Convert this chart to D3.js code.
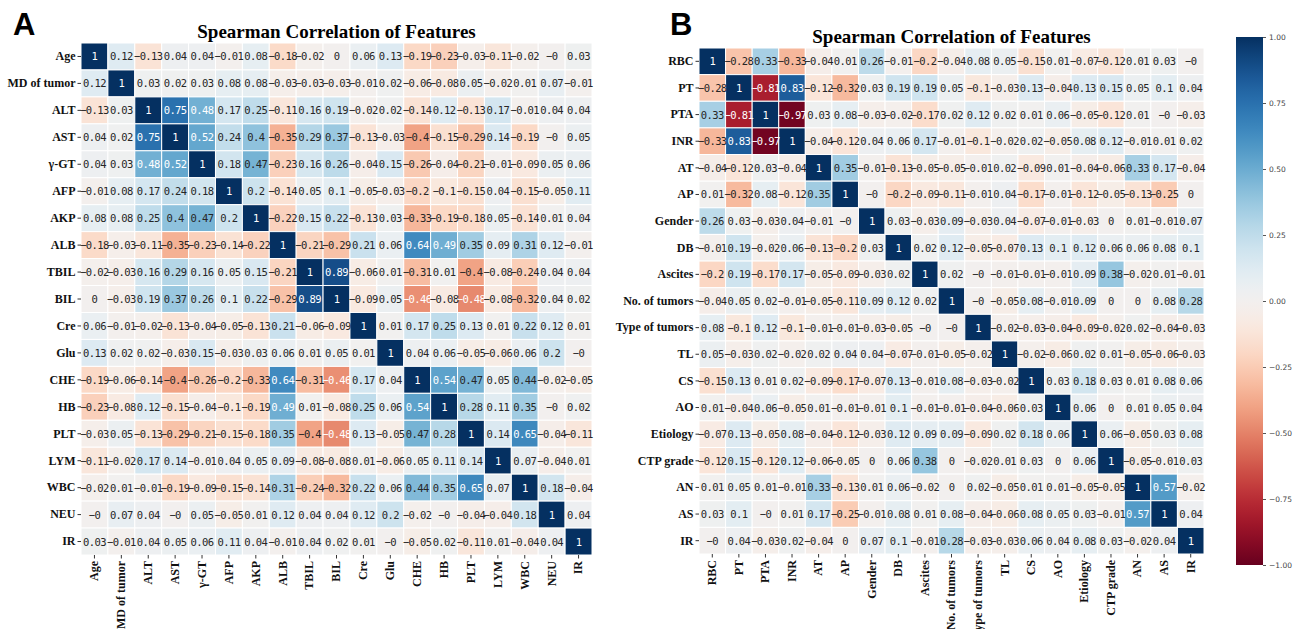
<!DOCTYPE html>
<html>
<head>
<meta charset="utf-8">
<script src="https://cdn.jsdelivr.net/npm/d3@7"></script>
<style>
  body { margin: 0; background: #fff; }
  svg { display: block; }
</style>
</head>
<body>
<div id="chart"></div>
<script>
const labelsA = ["Age", "MD of tumor", "ALT", "AST", "γ-GT", "AFP", "AKP", "ALB", "TBIL", "BIL",
  "Cre", "Glu", "CHE", "HB", "PLT", "LYM", "WBC", "NEU", "IR"];

const corrA = [
  [1, 0.12, -0.13, 0.04, 0.04, -0.01, 0.08, -0.18, -0.02, 0, 0.06, 0.13, -0.19, -0.23, -0.03, -0.11, -0.02, -0, 0.03],
  [0.12, 1, 0.03, 0.02, 0.03, 0.08, 0.08, -0.03, -0.03, -0.03, -0.01, 0.02, -0.06, -0.08, 0.05, -0.02, 0.01, 0.07, -0.01],
  [-0.13, 0.03, 1, 0.75, 0.48, 0.17, 0.25, -0.11, 0.16, 0.19, -0.02, 0.02, -0.14, 0.12, -0.13, 0.17, -0.01, 0.04, 0.04],
  [0.04, 0.02, 0.75, 1, 0.52, 0.24, 0.4, -0.35, 0.29, 0.37, -0.13, -0.03, -0.4, -0.15, -0.29, 0.14, -0.19, -0, 0.05],
  [0.04, 0.03, 0.48, 0.52, 1, 0.18, 0.47, -0.23, 0.16, 0.26, -0.04, 0.15, -0.26, -0.04, -0.21, -0.01, -0.09, 0.05, 0.06],
  [-0.01, 0.08, 0.17, 0.24, 0.18, 1, 0.2, -0.14, 0.05, 0.1, -0.05, -0.03, -0.2, -0.1, -0.15, 0.04, -0.15, -0.05, 0.11],
  [0.08, 0.08, 0.25, 0.4, 0.47, 0.2, 1, -0.22, 0.15, 0.22, -0.13, 0.03, -0.33, -0.19, -0.18, 0.05, -0.14, 0.01, 0.04],
  [-0.18, -0.03, -0.11, -0.35, -0.23, -0.14, -0.22, 1, -0.21, -0.29, 0.21, 0.06, 0.64, 0.49, 0.35, 0.09, 0.31, 0.12, -0.01],
  [-0.02, -0.03, 0.16, 0.29, 0.16, 0.05, 0.15, -0.21, 1, 0.89, -0.06, 0.01, -0.31, 0.01, -0.4, -0.08, -0.24, 0.04, 0.04],
  [0, -0.03, 0.19, 0.37, 0.26, 0.1, 0.22, -0.29, 0.89, 1, -0.09, 0.05, -0.46, -0.08, -0.48, -0.08, -0.32, 0.04, 0.02],
  [0.06, -0.01, -0.02, -0.13, -0.04, -0.05, -0.13, 0.21, -0.06, -0.09, 1, 0.01, 0.17, 0.25, 0.13, 0.01, 0.22, 0.12, 0.01],
  [0.13, 0.02, 0.02, -0.03, 0.15, -0.03, 0.03, 0.06, 0.01, 0.05, 0.01, 1, 0.04, 0.06, -0.05, -0.06, 0.06, 0.2, -0],
  [-0.19, -0.06, -0.14, -0.4, -0.26, -0.2, -0.33, 0.64, -0.31, -0.46, 0.17, 0.04, 1, 0.54, 0.47, 0.05, 0.44, -0.02, -0.05],
  [-0.23, -0.08, 0.12, -0.15, -0.04, -0.1, -0.19, 0.49, 0.01, -0.08, 0.25, 0.06, 0.54, 1, 0.28, 0.11, 0.35, -0, 0.02],
  [-0.03, 0.05, -0.13, -0.29, -0.21, -0.15, -0.18, 0.35, -0.4, -0.48, 0.13, -0.05, 0.47, 0.28, 1, 0.14, 0.65, -0.04, -0.11],
  [-0.11, -0.02, 0.17, 0.14, -0.01, 0.04, 0.05, 0.09, -0.08, -0.08, 0.01, -0.06, 0.05, 0.11, 0.14, 1, 0.07, -0.04, 0.01],
  [-0.02, 0.01, -0.01, -0.19, -0.09, -0.15, -0.14, 0.31, -0.24, -0.32, 0.22, 0.06, 0.44, 0.35, 0.65, 0.07, 1, 0.18, -0.04],
  [-0, 0.07, 0.04, -0, 0.05, -0.05, 0.01, 0.12, 0.04, 0.04, 0.12, 0.2, -0.02, -0, -0.04, -0.04, 0.18, 1, 0.04],
  [0.03, -0.01, 0.04, 0.05, 0.06, 0.11, 0.04, -0.01, 0.04, 0.02, 0.01, -0, -0.05, 0.02, -0.11, 0.01, -0.04, 0.04, 1]
];

const labelsB = ["RBC", "PT", "PTA", "INR", "AT", "AP", "Gender", "DB", "Ascites", "No. of tumors",
  "Type of tumors", "TL", "CS", "AO", "Etiology", "CTP grade", "AN", "AS", "IR"];

const corrB = [
  [1, -0.28, 0.33, -0.33, -0.04, 0.01, 0.26, -0.01, -0.2, -0.04, 0.08, 0.05, -0.15, 0.01, -0.07, -0.12, 0.01, 0.03, -0],
  [-0.28, 1, -0.81, 0.83, -0.12, -0.32, 0.03, 0.19, 0.19, 0.05, -0.1, -0.03, 0.13, -0.04, 0.13, 0.15, 0.05, 0.1, 0.04],
  [0.33, -0.81, 1, -0.97, 0.03, 0.08, -0.03, -0.02, -0.17, 0.02, 0.12, 0.02, 0.01, 0.06, -0.05, -0.12, 0.01, -0, -0.03],
  [-0.33, 0.83, -0.97, 1, -0.04, -0.12, 0.04, 0.06, 0.17, -0.01, -0.1, -0.02, 0.02, -0.05, 0.08, 0.12, -0.01, 0.01, 0.02],
  [-0.04, -0.12, 0.03, -0.04, 1, 0.35, -0.01, -0.13, -0.05, -0.05, -0.01, 0.02, -0.09, 0.01, -0.04, -0.06, 0.33, 0.17, -0.04],
  [0.01, -0.32, 0.08, -0.12, 0.35, 1, -0, -0.2, -0.09, -0.11, -0.01, 0.04, -0.17, -0.01, -0.12, -0.05, -0.13, -0.25, 0],
  [0.26, 0.03, -0.03, 0.04, -0.01, -0, 1, 0.03, -0.03, 0.09, -0.03, 0.04, -0.07, -0.01, -0.03, 0, 0.01, -0.01, 0.07],
  [-0.01, 0.19, -0.02, 0.06, -0.13, -0.2, 0.03, 1, 0.02, 0.12, -0.05, -0.07, 0.13, 0.1, 0.12, 0.06, 0.06, 0.08, 0.1],
  [-0.2, 0.19, -0.17, 0.17, -0.05, -0.09, -0.03, 0.02, 1, 0.02, -0, -0.01, -0.01, -0.01, 0.09, 0.38, -0.02, 0.01, -0.01],
  [-0.04, 0.05, 0.02, -0.01, -0.05, -0.11, 0.09, 0.12, 0.02, 1, -0, -0.05, 0.08, -0.01, 0.09, 0, 0, 0.08, 0.28],
  [0.08, -0.1, 0.12, -0.1, -0.01, -0.01, -0.03, -0.05, -0, -0, 1, -0.02, -0.03, -0.04, -0.09, -0.02, 0.02, -0.04, -0.03],
  [0.05, -0.03, 0.02, -0.02, 0.02, 0.04, 0.04, -0.07, -0.01, -0.05, -0.02, 1, -0.02, -0.06, 0.02, 0.01, -0.05, -0.06, -0.03],
  [-0.15, 0.13, 0.01, 0.02, -0.09, -0.17, -0.07, 0.13, -0.01, 0.08, -0.03, -0.02, 1, 0.03, 0.18, 0.03, 0.01, 0.08, 0.06],
  [0.01, -0.04, 0.06, -0.05, 0.01, -0.01, -0.01, 0.1, -0.01, -0.01, -0.04, -0.06, 0.03, 1, 0.06, 0, 0.01, 0.05, 0.04],
  [-0.07, 0.13, -0.05, 0.08, -0.04, -0.12, -0.03, 0.12, 0.09, 0.09, -0.09, 0.02, 0.18, 0.06, 1, 0.06, -0.05, 0.03, 0.08],
  [-0.12, 0.15, -0.12, 0.12, -0.06, -0.05, 0, 0.06, 0.38, 0, -0.02, 0.01, 0.03, 0, 0.06, 1, -0.05, -0.01, 0.03],
  [0.01, 0.05, 0.01, -0.01, 0.33, -0.13, 0.01, 0.06, -0.02, 0, 0.02, -0.05, 0.01, 0.01, -0.05, -0.05, 1, 0.57, -0.02],
  [0.03, 0.1, -0, 0.01, 0.17, -0.25, -0.01, 0.08, 0.01, 0.08, -0.04, -0.06, 0.08, 0.05, 0.03, -0.01, 0.57, 1, 0.04],
  [-0, 0.04, -0.03, 0.02, -0.04, 0, 0.07, 0.1, -0.01, 0.28, -0.03, -0.03, 0.06, 0.04, 0.08, 0.03, -0.02, 0.04, 1]
];

const colorbarTicks = [1, 0.75, 0.5, 0.25, 0, -0.25, -0.5, -0.75, -1];

const W = 1298, H = 629;
const serif = "'Liberation Serif', 'Times New Roman', serif";

const svg = d3.select("#chart").append("svg")
  .attr("width", W)
  .attr("height", H);

const color = v => d3.interpolateRdBu((v + 1) / 2);

// seaborn-style text colour: dark on light cells, white on dark ones
function lum(c) {
  const rgb = d3.rgb(c);
  const f = u => { u /= 255; return u <= 0.03928 ? u / 12.92 : Math.pow((u + 0.055) / 1.055, 2.4); };
  return 0.2126 * f(rgb.r) + 0.7152 * f(rgb.g) + 0.0722 * f(rgb.b);
}

function fmt(v) {
  const s = Object.is(v, -0) ? "-0" : String(v);
  return s.replace("-", "\u2212");
}

function heatmap(labels, matrix, box, title, letter, letterPos) {
  const g = svg.append("g");

  const x = d3.scaleBand().domain(labels).range([box.x0, box.x1]);
  const y = d3.scaleBand().domain(labels).range([box.y0, box.y1]);

  const cells = [];
  matrix.forEach((row, i) => row.forEach((v, j) => cells.push({ r: labels[i], c: labels[j], v: v })));

  g.selectAll("rect.cell")
    .data(cells)
    .join("rect")
    .attr("class", "cell")
    .attr("x", d => x(d.c))
    .attr("y", d => y(d.r))
    .attr("width", x.bandwidth())
    .attr("height", y.bandwidth())
    .attr("fill", d => color(d.v))
    .attr("stroke", "white")
    .attr("stroke-width", 1);

  g.selectAll("text.val")
    .data(cells)
    .join("text")
    .attr("class", "val")
    .attr("x", d => x(d.c) + x.bandwidth() / 2)
    .attr("y", d => y(d.r) + y.bandwidth() / 2)
    .attr("text-anchor", "middle")
    .attr("dominant-baseline", "central")
    .style("font-family", "'DejaVu Sans Mono', monospace")
    .style("font-size", "10.5px")
    .style("letter-spacing", "-0.6px")
    .attr("fill", d => lum(color(d.v)) > 0.408 ? "#262626" : "#ffffff")
    .text(d => fmt(d.v));

  const yAxis = g.append("g")
    .attr("transform", `translate(${box.x0},0)`)
    .call(d3.axisLeft(y).tickSize(3.5).tickPadding(2));
  yAxis.select(".domain").remove();

  const xAxis = g.append("g")
    .attr("transform", `translate(0,${box.y1})`)
    .call(d3.axisBottom(x).tickSize(3.5).tickPadding(2));
  xAxis.select(".domain").remove();
  xAxis.selectAll("text")
    .attr("transform", "rotate(-90)")
    .attr("text-anchor", "end")
    .attr("dy", "0.32em")
    .attr("x", -6)
    .attr("y", 0);

  g.selectAll(".tick line").attr("stroke", "#333");
  g.selectAll(".tick text")
    .style("font-family", serif)
    .style("font-weight", "bold")
    .style("font-size", "12px")
    .attr("fill", "#111");

  g.append("text")
    .attr("x", (box.x0 + box.x1) / 2)
    .attr("y", box.y0 - 5)
    .attr("text-anchor", "middle")
    .style("font-family", serif)
    .style("font-weight", "bold")
    .style("font-size", "19px")
    .text(title);

  g.append("text")
    .attr("x", letterPos[0])
    .attr("y", letterPos[1])
    .style("font-family", "'Liberation Sans', Arial, sans-serif")
    .style("font-weight", "bold")
    .style("font-size", "31px")
    .text(letter);
}

heatmap(labelsA, corrA, { x0: 81, x1: 592, y0: 43, y1: 555 },
  "Spearman Correlation of Features", "A", [13, 35]);
heatmap(labelsB, corrB, { x0: 699, x1: 1204, y0: 48, y1: 554 },
  "Spearman Correlation of Features", "B", [670, 35]);

// colorbar
const cb = { x: 1236, w: 27, y0: 37, y1: 565 };
const defs = svg.append("defs");
const grad = defs.append("linearGradient")
  .attr("id", "cbgrad")
  .attr("x1", 0).attr("y1", 1).attr("x2", 0).attr("y2", 0);
d3.range(0, 1.0001, 0.02).forEach(t => {
  grad.append("stop").attr("offset", t).attr("stop-color", d3.interpolateRdBu(t));
});
svg.append("rect")
  .attr("x", cb.x)
  .attr("y", cb.y0)
  .attr("width", cb.w)
  .attr("height", cb.y1 - cb.y0)
  .attr("fill", "url(#cbgrad)");

const cbScale = d3.scaleLinear().domain([-1, 1]).range([cb.y1, cb.y0]);
const cbAxis = svg.append("g")
  .attr("transform", `translate(${cb.x + cb.w},0)`)
  .call(d3.axisRight(cbScale).tickValues(colorbarTicks).tickFormat(d3.format(".2f")).tickSize(3).tickPadding(3));
cbAxis.select(".domain").remove();
cbAxis.selectAll("line").attr("stroke", "#555");
cbAxis.selectAll("text")
  .style("font-family", "'DejaVu Sans', sans-serif")
  .style("font-size", "7.5px")
  .attr("fill", "#444")
  .text(d => d3.format(".2f")(d).replace("-", "\u2212"));
</script>
</body>
</html>
